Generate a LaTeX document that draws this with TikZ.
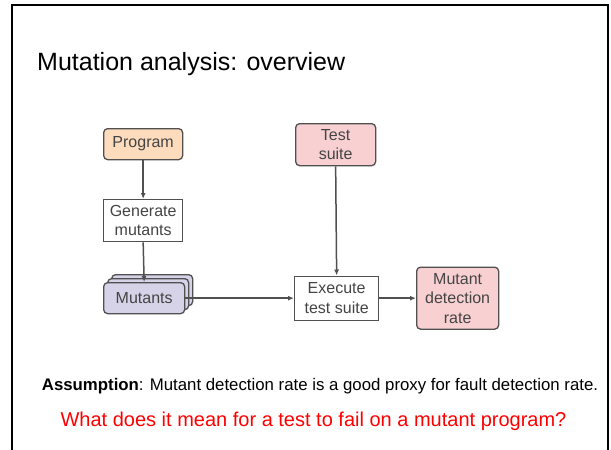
\documentclass[tikz,border=0pt]{standalone}
\usepackage{fontspec}
\setmainfont{Liberation Sans}
\usetikzlibrary{arrows.meta}
\definecolor{orangefill}{HTML}{FCDCBC}
\definecolor{pinkfill}{HTML}{F8D0D2}
\definecolor{lavfill}{HTML}{D6D3E8}
\definecolor{boxline}{HTML}{505050}
\definecolor{txtgray}{HTML}{444444}
\begin{document}
\begin{tikzpicture}[x=1pt,y=-1pt,
  box/.style={draw=boxline, line width=1.3pt, text=txtgray, font=\fontsize{16}{19.5}\selectfont, align=center, inner sep=0pt, anchor=north west},
  rbox/.style={box, rounded corners=4pt},
  conn/.style={draw=boxline, line width=1.5pt, -{Latex[length=6pt,width=5pt]}}
]
\useasboundingbox (0,0) rectangle (611,450);
\draw[line width=2pt] (12,460) -- (12,5) -- (608,5) -- (608,460);
\node[anchor=west, inner sep=0pt, font=\fontsize{25}{28}\selectfont] (title) at (37,64) {Mutation analysis: overview};

\node[rbox, fill=orangefill, minimum width=79pt, minimum height=31pt] (prog) at (103,128) {Program};
\node[box, fill=white, minimum width=79pt, minimum height=42pt] (gen) at (103,199) {Generate\\mutants};
\node[rbox, fill=lavfill, minimum width=81pt, minimum height=31pt] (m3) at (111,274) {};
\node[rbox, fill=lavfill, minimum width=81pt, minimum height=31pt] (m2) at (107,278) {};
\node[rbox, fill=lavfill, minimum width=81pt, minimum height=31pt] (mut) at (103,282) {Mutants};
\node[rbox, fill=pinkfill, minimum width=80pt, minimum height=42pt] (ts) at (295,123) {Test\\suite};
\node[box, fill=white, minimum width=84pt, minimum height=44pt] (exe) at (294,275.5) {Execute\\test suite};
\node[rbox, fill=pinkfill, minimum width=82pt, minimum height=62pt] (mdr) at (416,266.5) {Mutant\\detection\\rate};

\draw[conn] (prog.south) -- (gen.north);
\draw[conn] (gen.south) -- (mut.north);
\draw[conn] (mut.east) -- (exe.west);
\draw[conn] (ts.south) -- (exe.north);
\draw[conn] (exe.east) -- (mdr.west);

\node[font=\fontsize{16.8}{20}\selectfont] (assump) at (320,386) {\textbf{Assumption}: Mutant detection rate is a good proxy for fault detection rate.};
\node[font=\fontsize{20}{24}\selectfont, text=red] (q) at (313.5,421) {What does it mean for a test to fail on a mutant program?};
\end{tikzpicture}
\end{document}
